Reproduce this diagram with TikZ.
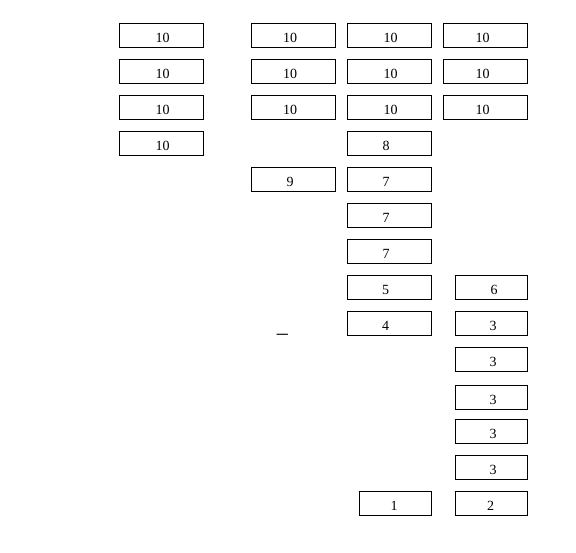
\documentclass[tikz,border=0pt]{standalone}
\usepackage{fontspec}
\setmainfont{Liberation Serif}
\begin{document}
\begin{tikzpicture}[x=1pt,y=-1pt,
  cell/.style={draw=black,line width=1pt,minimum width=84pt,minimum height=24pt,inner sep=0pt,
    text height=13pt,text depth=0pt,font=\fontsize{14}{16}\selectfont},
  narrow/.style={cell,minimum width=72pt},
  dx/.style={execute at begin node={\hspace*{#1}}}]
\useasboundingbox (0,0) rectangle (576,552);
% column 1
\node[cell,dx=2pt] (a1) at (161.5,35.5) {10};
\node[cell,dx=2pt] (a2) at (161.5,71.5) {10};
\node[cell,dx=2pt] (a3) at (161.5,107.5) {10};
\node[cell,dx=2pt] (a4) at (161.5,143.5) {10};
% column 2
\node[cell,dx=-7pt] (b1) at (293.5,35.5) {10};
\node[cell,dx=-7pt] (b2) at (293.5,71.5) {10};
\node[cell,dx=-7pt] (b3) at (293.5,107.5) {10};
\node[cell,dx=-7pt] (b5) at (293.5,179.5) {9};
% column 3
\node[cell,dx=2pt] (c1) at (389.5,35.5) {10};
\node[cell,dx=2pt] (c2) at (389.5,71.5) {10};
\node[cell,dx=2pt] (c3) at (389.5,107.5) {10};
\node[cell,dx=-7pt] (c4) at (389.5,143.5) {8};
\node[cell,dx=-7pt] (c5) at (389.5,179.5) {7};
\node[cell,dx=-7pt] (c6) at (389.5,215.5) {7};
\node[cell,dx=-7pt] (c7) at (389.5,251.5) {7};
\node[cell,dx=-8pt] (c8) at (389.5,287.5) {5};
\node[cell,dx=-8pt] (c9) at (389.5,323.5) {4};
\node[narrow,dx=-3pt] (c14) at (395.5,503.5) {1};
% column 4
\node[cell,dx=-6pt] (d1) at (485.5,35.5) {10};
\node[cell,dx=-6pt] (d2) at (485.5,71.5) {10};
\node[cell,dx=-6pt] (d3) at (485.5,107.5) {10};
% column 5
\node[narrow,dx=5pt] (e8) at (491.5,287.5) {6};
\node[narrow,dx=3pt] (e9) at (491.5,323.5) {3};
\node[narrow,dx=3pt] (e10) at (491.5,359.5) {3};
\node[narrow,dx=3pt] (e11) at (491.5,397.5) {3};
\node[narrow,dx=3pt] (e12) at (491.5,431.5) {3};
\node[narrow,dx=3pt] (e13) at (491.5,467.5) {3};
\node[narrow,dx=-2pt] (e14) at (491.5,503.5) {2};
% stray underscore
\node[anchor=base,inner sep=0pt,font=\fontsize{22}{24}\selectfont] (u) at (282.3,332.5) {\_};
\end{tikzpicture}
\end{document}
